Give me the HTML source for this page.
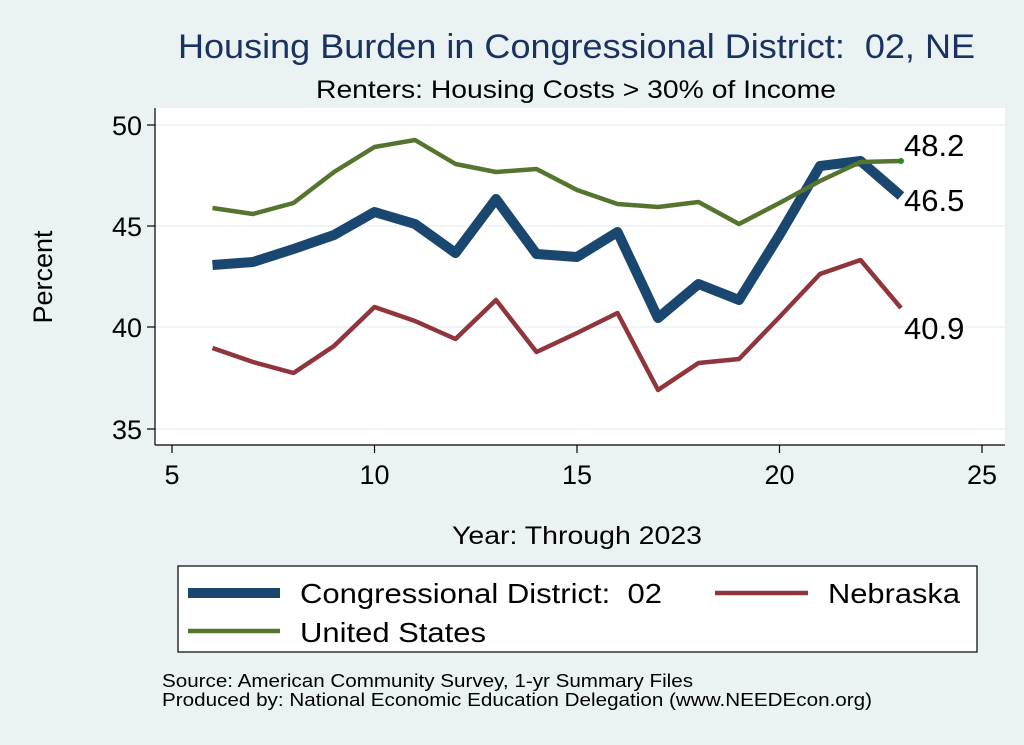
<!DOCTYPE html>
<html><head><style>
body{margin:0;background:#eaf2f3;}
svg{display:block;font-family:"Liberation Sans",Arial,sans-serif;}
text{white-space:pre;}
</style></head><body>
<svg width="1024" height="745" viewBox="0 0 1024 745">
<rect width="1024" height="745" fill="#eaf2f3"/>
<text x="178" y="58" font-size="34" fill="#1a3260" textLength="797" lengthAdjust="spacingAndGlyphs">Housing Burden in Congressional District:&#160; 02, NE</text>
<text x="316" y="98" font-size="25" fill="#000" textLength="520" lengthAdjust="spacingAndGlyphs">Renters: Housing Costs &gt; 30% of Income</text>
<rect x="155" y="108" width="850" height="337" fill="#fff"/>
<g stroke="#eaf2f3" stroke-width="1.5">
<line x1="155" x2="1005" y1="125" y2="125"/><line x1="155" x2="1005" y1="226" y2="226"/>
<line x1="155" x2="1005" y1="327" y2="327"/><line x1="155" x2="1005" y1="429" y2="429"/>
</g>
<g stroke="#000" stroke-width="1.2">
<line x1="155" x2="155" y1="108" y2="445"/><line x1="155" x2="1005" y1="445" y2="445"/>
<line x1="147" x2="155" y1="125" y2="125"/><line x1="147" x2="155" y1="226" y2="226"/>
<line x1="147" x2="155" y1="327" y2="327"/><line x1="147" x2="155" y1="429" y2="429"/>
<line x1="172" x2="172" y1="445" y2="453"/><line x1="374.5" x2="374.5" y1="445" y2="453"/>
<line x1="577" x2="577" y1="445" y2="453"/><line x1="779.5" x2="779.5" y1="445" y2="453"/>
<line x1="982" x2="982" y1="445" y2="453"/>
</g>
<g font-size="27" text-anchor="end"><text x="142" y="135">50</text><text x="142" y="236">45</text><text x="142" y="337">40</text><text x="142" y="439">35</text></g>
<g font-size="27" text-anchor="middle"><text x="172" y="484">5</text><text x="374.5" y="484">10</text><text x="577" y="484">15</text><text x="779.5" y="484">20</text><text x="982" y="484">25</text></g>
<text x="52" y="277" font-size="27" text-anchor="middle" transform="rotate(-90 52 277)">Percent</text>
<text x="452" y="544" font-size="25" textLength="250" lengthAdjust="spacingAndGlyphs">Year: Through 2023</text>
<polyline fill="none" stroke="#1a476f" stroke-width="10" stroke-linejoin="round" points="212.5,265 253,262 293.5,249 334,235 374.5,212 415,224 455.5,253 496,199 536.5,254 577,257 617.5,232 658,318 698.5,284 739,300 779.5,235 820,166 860.5,161 901,196"/>
<polyline fill="none" stroke="#90353b" stroke-width="4.5" stroke-linejoin="round" points="212.5,348 253,362 293.5,373 334,346 374.5,307 415,321 455.5,339 496,300 536.5,352 577,333 617.5,313 658,390 698.5,363 739,359 779.5,317 820,274 860.5,260 901,308"/>
<polyline fill="none" stroke="#55752f" stroke-width="4.5" stroke-linejoin="round" points="212.5,208 253,214 293.5,203 334,172 374.5,147 415,140 455.5,164 496,172 536.5,169 577,190 617.5,204 658,207 698.5,202 739,224 779.5,203 820,181 860.5,162 901,161"/>
<circle cx="901" cy="161" r="3" fill="#2a8a1a"/>
<g font-size="31"><text x="904" y="156">48.2</text><text x="904" y="211">46.5</text><text x="904" y="339">40.9</text></g>
<rect x="178" y="566" width="799" height="86" fill="#fff" stroke="#000" stroke-width="1.2"/>
<line x1="188" x2="280" y1="593" y2="593" stroke="#1a476f" stroke-width="10"/>
<text x="300" y="603" font-size="28" textLength="362" lengthAdjust="spacingAndGlyphs">Congressional District:&#160; 02</text>
<line x1="715" x2="808" y1="593" y2="593" stroke="#90353b" stroke-width="4.5"/>
<text x="828" y="603" font-size="28" textLength="132" lengthAdjust="spacingAndGlyphs">Nebraska</text>
<line x1="188" x2="280" y1="631" y2="631" stroke="#55752f" stroke-width="4.5"/>
<text x="300" y="642" font-size="28" textLength="186" lengthAdjust="spacingAndGlyphs">United States</text>
<text x="162" y="687" font-size="18" textLength="531" lengthAdjust="spacingAndGlyphs">Source: American Community Survey, 1-yr Summary Files</text>
<text x="162" y="706" font-size="18" textLength="710" lengthAdjust="spacingAndGlyphs">Produced by: National Economic Education Delegation (www.NEEDEcon.org)</text>
</svg>
</body></html>
